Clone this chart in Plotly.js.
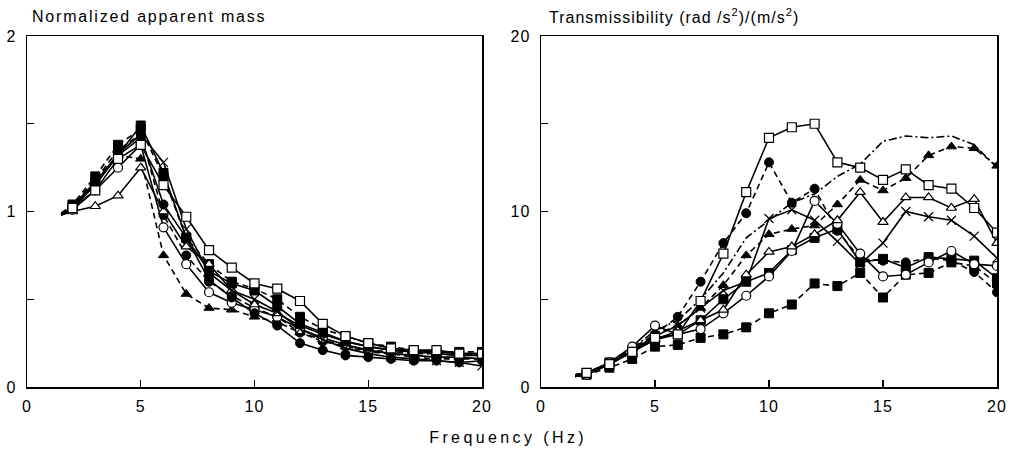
<!DOCTYPE html>
<html>
<head>
<meta charset="utf-8">
<script src="https://cdn.plot.ly/plotly-3.0.1.min.js"></script>
<style>
  html, body { margin: 0; padding: 0; background: #fff; }
  #chart { width: 1016px; height: 452px; }
  .annotation[data-index="0"] .annotation-text { letter-spacing: 1.8px; }
  .annotation[data-index="1"] .annotation-text { letter-spacing: 1px; }
  .annotation[data-index="2"] .annotation-text { letter-spacing: 3.4px; }
  .xtick text, .ytick text, .x2tick text, .y2tick text { letter-spacing: 1px; }
</style>
</head>
<body>
<div id="chart"></div>
<script>
// Frequencies (Hz)
const freq = [1.5, 2, 3, 4, 5, 6, 7, 8, 9, 10, 11, 12, 13, 14, 15, 16, 17, 18, 19, 20];

// Left panel: normalized apparent mass
const massOpenSquare   = [0.98,1.02,1.12,1.30,1.38,1.15,0.97,0.78,0.68,0.59,0.56,0.49,0.36,0.29,0.25,0.22,0.21,0.21,0.19,0.19];
const massFilledSquare = [0.98,1.03,1.17,1.32,1.49,1.22,0.85,0.66,0.59,0.55,0.46,0.36,0.31,0.26,0.23,0.21,0.20,0.19,0.18,0.18];
const massFilledCircle = [0.98,1.02,1.15,1.32,1.42,1.04,0.85,0.61,0.51,0.42,0.35,0.25,0.21,0.18,0.17,0.16,0.15,0.15,0.14,0.15];
const massFilledCircle2= [0.99,1.03,1.18,1.35,1.44,0.98,0.75,0.60,0.52,0.45,0.40,0.31,0.26,0.23,0.20,0.19,0.17,0.16,0.16,0.16];
const massOpenCircle   = [0.98,1.01,1.12,1.25,1.38,0.91,0.70,0.54,0.48,0.44,0.40,0.33,0.28,0.24,0.21,0.19,0.18,0.17,0.17,0.16];
const massFilledTri    = [0.99,1.03,1.18,1.32,1.30,0.75,0.53,0.45,0.44,0.40,0.37,0.31,0.27,0.23,0.21,0.20,0.19,0.19,0.18,0.19];
const massOpenTri      = [0.98,1.00,1.03,1.09,1.25,1.00,0.80,0.70,0.55,0.47,0.42,0.35,0.30,0.26,0.23,0.21,0.20,0.20,0.19,0.19];
const massCross        = [0.98,1.02,1.16,1.33,1.44,1.28,0.90,0.65,0.55,0.50,0.43,0.33,0.27,0.22,0.19,0.17,0.16,0.15,0.14,0.12];
const massFilledSquare2= [0.99,1.04,1.20,1.38,1.47,1.20,0.85,0.70,0.60,0.56,0.50,0.40,0.33,0.29,0.25,0.23,0.21,0.20,0.20,0.20];

// Right panel: transmissibility
const trOpenSquare   = [0.7,0.8,1.3,2.0,2.8,3.0,4.9,7.6,11.1,14.2,14.8,15.0,12.8,12.5,11.8,12.4,11.5,11.3,10.2,8.8];
const trFilledCircle = [0.7,0.8,1.3,2.0,3.0,4.0,6.0,8.2,9.9,12.8,10.5,11.3,8.9,7.3,7.2,7.1,7.35,7.2,6.55,5.4];
const trFilledTri    = [0.6,0.7,1.4,2.2,3.0,3.5,4.5,5.8,7.5,8.7,9.0,9.2,10.4,11.8,11.2,11.9,13.2,13.7,13.6,12.6];
const trOpenTri      = [0.6,0.7,1.3,2.0,2.7,3.2,3.8,4.4,6.4,7.7,8.0,8.7,9.5,11.1,9.4,10.8,10.8,10.2,10.7,8.2];
const trOpenCircle   = [0.6,0.7,1.4,2.3,3.5,3.0,3.3,4.2,5.2,6.3,7.75,10.6,9.3,7.6,6.3,6.4,7.1,7.75,7.0,6.9];
const trFilledSquare = [0.6,0.7,1.1,1.6,2.3,2.4,2.8,3.0,3.4,4.2,4.7,5.9,5.75,6.5,5.1,6.4,6.5,7.1,6.9,5.9];
const trCross        = [0.6,0.7,1.3,2.1,2.9,3.5,4.5,5.5,6.0,9.6,10.1,9.5,8.3,7.0,8.2,10.0,9.7,9.5,8.6,7.35];
const trFilledSquare2= [0.7,0.8,1.4,2.0,2.7,3.0,3.8,5.0,6.0,6.5,7.8,8.5,9.0,7.1,7.3,6.8,7.4,7.3,7.2,6.2];
const trDashedTop    = [0.7,0.8,1.4,2.2,3.2,3.8,5.0,6.5,8.5,9.5,10.5,11.0,12.0,12.7,14.0,14.3,14.2,14.3,13.8,12.5];

const FONT = 'Liberation Sans, Arial, sans-serif';
const DASH = '6px,4px';
const msize = freq.map(f => (f % 1 === 0 ? 9 : 0));

function style(kind) {
  switch (kind) {
    case 'fs': return {symbol: 'square', color: 'black', line: {color: 'black', width: 1}};
    case 'os': return {symbol: 'square', color: 'white', line: {color: 'black', width: 1.2}};
    case 'fc': return {symbol: 'circle', color: 'black', line: {color: 'black', width: 1}};
    case 'oc': return {symbol: 'circle', color: 'white', line: {color: 'black', width: 1.2}};
    case 'ft': return {symbol: 'triangle-up', color: 'black', line: {color: 'black', width: 1}};
    case 'ot': return {symbol: 'triangle-up', color: 'white', line: {color: 'black', width: 1.2}};
    case 'x':  return {symbol: 'x-thin', color: 'black', line: {color: 'black', width: 1.2}};
  }
}

function tr(y, kind, dash, axis) {
  const t = {
    x: freq, y: y, type: 'scatter',
    xaxis: axis === 2 ? 'x2' : 'x', yaxis: axis === 2 ? 'y2' : 'y',
    line: {color: 'black', width: 1.6, dash: dash || 'solid'},
    showlegend: false, hoverinfo: 'skip'
  };
  if (kind) {
    const s = style(kind);
    t.mode = 'lines+markers';
    t.marker = {symbol: s.symbol, color: s.color, size: msize, opacity: 1, line: s.line};
  } else {
    t.mode = 'lines';
  }
  return t;
}

const data = [
  tr(massFilledCircle2, 'fc', DASH, 1),
  tr(massFilledTri, 'ft', DASH, 1),
  tr(massFilledSquare2, 'fs', DASH, 1),
  tr(massOpenCircle, 'oc', null, 1),
  tr(massOpenTri, 'ot', null, 1),
  tr(massCross, 'x', null, 1),
  tr(massFilledCircle, 'fc', null, 1),
  tr(massFilledSquare, 'fs', null, 1),
  tr(massOpenSquare, 'os', null, 1),

  tr(trDashedTop, null, '8px,3px,2px,3px', 2),
  tr(trFilledTri, 'ft', DASH, 2),
  tr(trFilledCircle, 'fc', DASH, 2),
  tr(trFilledSquare, 'fs', DASH, 2),
  tr(trFilledSquare2, 'fs', null, 2),
  tr(trCross, 'x', null, 2),
  tr(trOpenCircle, 'oc', null, 2),
  tr(trOpenTri, 'ot', null, 2),
  tr(trOpenSquare, 'os', null, 2)
];

const axCommon = {
  showline: true, mirror: true, linecolor: 'black', linewidth: 1.5,
  ticks: 'inside', ticklen: 7, tickwidth: 1.2, tickcolor: 'black',
  showgrid: false, zeroline: false,
  tickfont: {family: FONT, size: 16, color: 'black'}
};

const layout = {
  width: 1016, height: 452,
  margin: {l: 0, r: 0, t: 36, b: 65},
  paper_bgcolor: 'white', plot_bgcolor: 'white',
  font: {family: FONT, color: 'black'},
  xaxis: Object.assign({}, axCommon, {domain: [27/1016, 482/1016], range: [0, 20],
    tickvals: [0, 5, 10, 15, 20], ticktext: ['0', '5', '10', '15', '20'], anchor: 'y', ticklabelstandoff: 4}),
  yaxis: Object.assign({}, axCommon, {range: [0, 2],
    tickvals: [0, 0.5, 1, 1.5, 2], ticktext: ['0', '', '1', '', '2'], anchor: 'x', ticklabelstandoff: 6}),
  xaxis2: Object.assign({}, axCommon, {domain: [541/1016, 997/1016], range: [0, 20],
    tickvals: [0, 5, 10, 15, 20], ticktext: ['0', '5', '10', '15', '20'], anchor: 'y2', ticklabelstandoff: 4}),
  yaxis2: Object.assign({}, axCommon, {range: [0, 20],
    tickvals: [0, 5, 10, 15, 20], ticktext: ['0', '', '10', '', '20'], anchor: 'x2', ticklabelstandoff: 6}),
  annotations: [
    {text: 'Normalized apparent mass', xref: 'paper', yref: 'paper', align: 'left',
     x: 30/1016, y: (387-16)/351, xanchor: 'left', yanchor: 'middle', showarrow: false,
     font: {family: FONT, size: 16, color: 'black'}},
    {text: 'Transmissibility (rad /s<sup>2</sup>)/(m/s<sup>2</sup>)', xref: 'paper', yref: 'paper', align: 'left',
     x: 547/1016, y: (387-16)/351, xanchor: 'left', yanchor: 'middle', showarrow: false,
     font: {family: FONT, size: 16, color: 'black'}},
    {text: 'Frequency (Hz)', xref: 'paper', yref: 'paper', align: 'center',
     x: 508/1016, y: -(437-387)/351, xanchor: 'center', yanchor: 'middle', showarrow: false,
     font: {family: FONT, size: 16, color: 'black'}}
  ]
};

Plotly.newPlot('chart', data, layout, {staticPlot: true, displayModeBar: false});
</script>
</body>
</html>
